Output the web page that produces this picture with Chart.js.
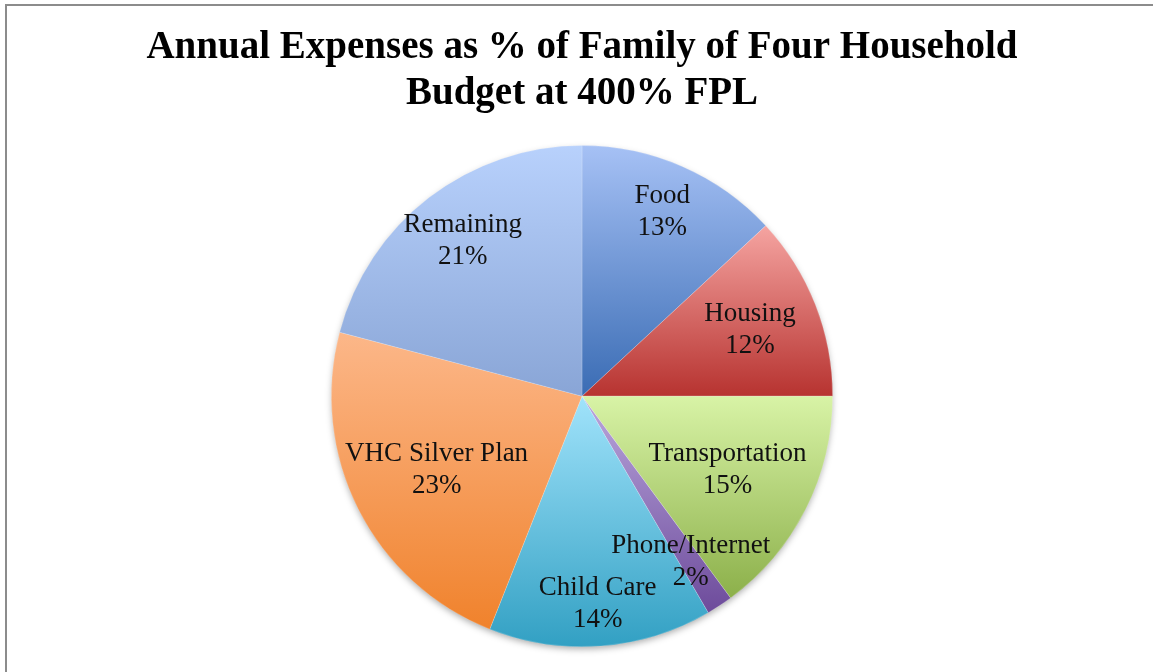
<!DOCTYPE html>
<html>
<head>
<meta charset="utf-8">
<script src="https://cdn.jsdelivr.net/npm/chart.js@4/dist/chart.umd.min.js"></script>
<style>
    html, body { margin: 0; padding: 0; background: #fff; overflow: hidden; }
    #wrap { position: relative; width: 1153px; height: 672px; }
    #frame {
        position: absolute; left: 5px; top: 4px; width: 1300px; height: 800px;
        border-left: 2px solid #8c8c8c; border-top: 2px solid #8c8c8c;
        pointer-events: none;
    }
</style>
</head>
<body>
<div id="wrap">
    <canvas id="chart" width="1153" height="672"></canvas>
    <div id="frame"></div>
</div>
<script>
// Data
const categories = ['Food', 'Housing', 'Transportation', 'Phone/Internet', 'Child Care', 'VHC Silver Plan', 'Remaining'];
const shares = [13.1, 11.9, 14.9, 1.7, 14.4, 23.1, 20.9];

// gradient stops per slice (top colour, bottom colour)
const topColors = ['#a6c1f5', '#f5a4a1', '#d8f3a6', '#baa7dd', '#a1e3fb', '#fcb789', '#b8d1fc'];
const bottomColors = ['#3a6cb4', '#b73330', '#8cb04a', '#6d4b9b', '#32a0c3', '#f0822c', '#89a5d6'];
// how far out (fraction of radius) each label sits
const labelRadius = [0.8, 0.72, 0.65, 0.79, 0.83, 0.65, 0.78];

// vertical extent of an arc, used to build its gradient
const arcBounds = (arc) => {
    const { x, y, outerRadius, startAngle, endAngle } = arc;
    const ys = [y, y + Math.sin(startAngle) * outerRadius, y + Math.sin(endAngle) * outerRadius];
    [-Math.PI / 2, Math.PI / 2, 3 * Math.PI / 2].forEach((a) => {
        if (a >= startAngle && a <= endAngle) ys.push(y + Math.sin(a) * outerRadius);
    });
    return [Math.min(...ys), Math.max(...ys)];
};

const sliceFill = (context) => {
    const i = context.dataIndex;
    const arc = context.element;
    if (!arc || arc.x === undefined || isNaN(arc.outerRadius)) return bottomColors[i];
    const [y0, y1] = arcBounds(arc);
    const g = context.chart.ctx.createLinearGradient(0, y0, 0, y1);
    g.addColorStop(0, topColors[i]);
    g.addColorStop(1, bottomColors[i]);
    return g;
};

// soft shadow under the whole pie
const pieShadow = {
    id: 'pieShadow',
    beforeDatasetsDraw(chart) {
        const arc = chart.getDatasetMeta(0).data[0];
        if (!arc) return;
        const ctx = chart.ctx;
        ctx.save();
        ctx.shadowColor = 'rgba(0,0,0,0.35)';
        ctx.shadowBlur = 7;
        ctx.shadowOffsetY = 3;
        ctx.fillStyle = '#ffffff';
        ctx.beginPath();
        ctx.arc(arc.x, arc.y, arc.outerRadius - 1, 0, Math.PI * 2);
        ctx.fill();
        ctx.restore();
    }
};

// category name + percent inside each slice
const sliceLabels = {
    id: 'sliceLabels',
    afterDatasetsDraw(chart) {
        const ctx = chart.ctx;
        const data = chart.data.datasets[0].data;
        const total = data.reduce((s, v) => s + v, 0);
        ctx.save();
        ctx.font = '27px "Liberation Serif", serif';
        ctx.fillStyle = '#111';
        ctx.textAlign = 'center';
        ctx.textBaseline = 'middle';
        chart.getDatasetMeta(0).data.forEach((arc, i) => {
            const mid = (arc.startAngle + arc.endAngle) / 2;
            const r = arc.outerRadius * labelRadius[i];
            const x = arc.x + Math.cos(mid) * r;
            const y = arc.y + Math.sin(mid) * r;
            ctx.fillText(chart.data.labels[i], x, y - 16);
            ctx.fillText(Math.round(data[i] / total * 100) + '%', x, y + 16);
        });
        ctx.restore();
    }
};

const chart = new Chart(document.getElementById('chart').getContext('2d'), {
    type: 'pie',
    data: {
        labels: categories,
        datasets: [{
            data: shares,
            backgroundColor: sliceFill,
            borderColor: 'rgba(255,255,255,0.35)',
            borderWidth: 0.5
        }]
    },
    options: {
        responsive: false,
        animation: false,
        layout: { padding: { top: 0, left: 11, right: 0, bottom: 25 } },
        plugins: {
            legend: { display: false },
            tooltip: { enabled: false },
            title: {
                display: true,
                text: ['Annual Expenses as % of Family of Four Household', 'Budget at 400% FPL'],
                color: '#000',
                font: { family: '"Liberation Serif", serif', size: 39, weight: 'bold', lineHeight: 1.17 },
                padding: { top: 25, bottom: 29 }
            }
        }
    },
    plugins: [pieShadow, sliceLabels]
});
// second pass so the gradients can use the arcs' geometry
chart.update();
</script>
</body>
</html>
